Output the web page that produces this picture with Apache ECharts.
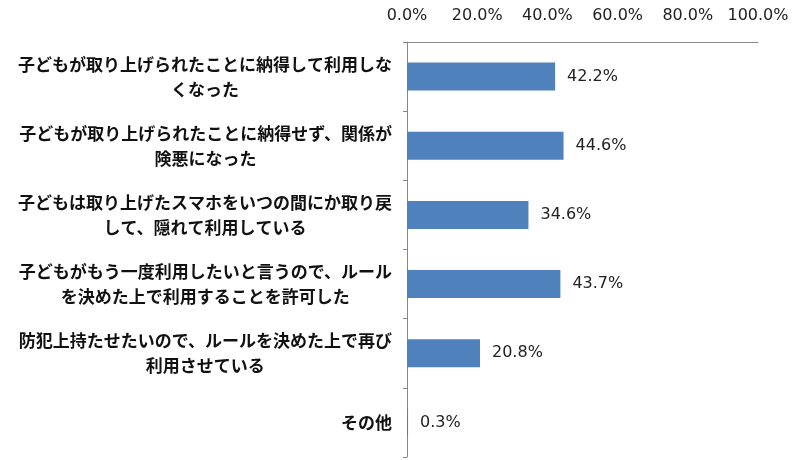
<!DOCTYPE html>
<html>
<head>
<meta charset="utf-8">
<script src="https://cdn.jsdelivr.net/npm/echarts@6/dist/echarts.min.js"></script>
<style>
html, body { margin: 0; padding: 0; background: #fff; }
#main { width: 800px; height: 460px; }
</style>
</head>
<body>
<div id="main"></div>
<script>
// 項目（上から順）
var categories = [
	'子どもが取り上げられたことに納得して利用しな\nくなった',
	'子どもが取り上げられたことに納得せず、関係が\n険悪になった',
	'子どもは取り上げたスマホをいつの間にか取り戻\nして、隠れて利用している',
	'子どもがもう一度利用したいと言うので、ルール\nを決めた上で利用することを許可した',
	'防犯上持たせたいので、ルールを決めた上で再び\n利用させている',
	'その他'
];
// 割合（%）
var values = [42.2, 44.6, 34.6, 43.7, 20.8, 0.3];
// 横軸の目盛り
var axisMin = 0;
var axisMax = 100;
var axisStep = 20;

var myChart = echarts.init(document.getElementById('main'));

var option = {
	animation : false,
	grid : {
		left : 407,
		right : 42,
		top : 42,
		bottom : 3
	},
	xAxis : {
		type : 'value',
		position : 'top',
		min : axisMin,
		max : axisMax,
		interval : axisStep,
		axisLine : {
			show : true,
			lineStyle : { color : '#888888', width : 1 }
		},
		axisTick : { show : false },
		splitLine : { show : false },
		axisLabel : {
			margin : 18,
			fontFamily : 'DejaVu Sans',
			fontSize : 16,
			color : '#222222',
			formatter : function(v) {
				return v.toFixed(1) + '%';
			}
		}
	},
	yAxis : {
		type : 'category',
		inverse : true,
		data : categories,
		axisLine : {
			show : true,
			lineStyle : { color : '#888888', width : 1 }
		},
		axisTick : {
			show : true,
			length : 4,
			lineStyle : { color : '#888888' }
		},
		axisLabel : {
			margin : 15,
			formatter : function(v) {
				// 各行を中央揃えにする
				return v.split('\n').map(function(line) {
					return '{c|' + line + '}';
				}).join('\n');
			},
			rich : {
				c : {
					align : 'center',
					fontFamily : 'Noto Sans CJK JP',
					fontSize : 17,
					fontWeight : 'bold',
					lineHeight : 25,
					color : '#111111'
				}
			}
		}
	},
	series : [ {
		type : 'bar',
		data : values,
		barWidth : 28,
		itemStyle : { color : '#4F81BD' },
		label : {
			show : true,
			position : 'right',
			distance : 12,
			fontFamily : 'DejaVu Sans',
			fontSize : 16,
			color : '#222222',
			formatter : function(p) {
				return p.value.toFixed(1) + '%';
			}
		}
	} ]
};

myChart.setOption(option);
</script>
</body>
</html>
